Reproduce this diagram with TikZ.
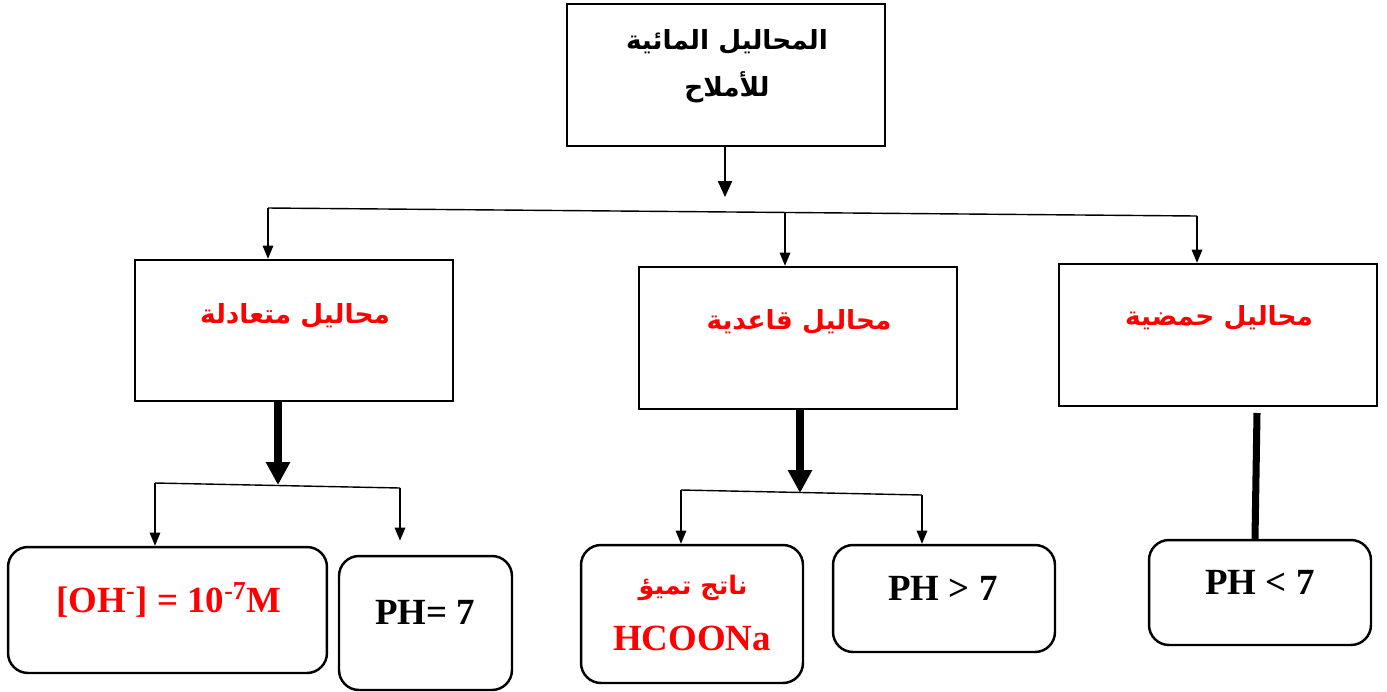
\documentclass[tikz,border=0pt]{standalone}
\usepackage{fontspec}
\setmainfont{Liberation Serif}
\newfontfamily\arabicfont[Script=Arabic]{DejaVu Sans}
\TeXXeTstate=1
\usetikzlibrary{arrows.meta}
\tikzset{
  box/.style={draw, line width=1.4pt, minimum width=6.36cm, minimum height=2.84cm, inner sep=0pt},
  rbox/.style={draw, line width=1.4pt, rounded corners=0.4cm, inner sep=0pt},
  artxt/.style={font=\arabicfont\bfseries\fontsize{15}{22}\selectfont, text=red, inner sep=0pt},
  lattxt/.style={font=\bfseries\fontsize{21}{25}\selectfont, inner sep=0pt},
  thinarr/.style={line width=0.8pt, -{Triangle[width=6pt,length=7.5pt]}},
  fatarr/.style={line width=4pt, -{Triangle[width=13pt,length=13pt]}},
}
\begin{document}
\begin{tikzpicture}[x=0.02cm, y=-0.02cm]
\useasboundingbox (0,0) rectangle (1387,691);

\node[box] (salts) at (726,75) {};
\node[font=\arabicfont\bfseries\fontsize{15}{27}\selectfont, align=center, inner sep=0pt] (saltstxt) at (727,66)
  {\beginR المحاليل المائية\endR\\\beginR للأملاح\endR};

\node[box, minimum height=2.82cm] (neutral) at (294,330.5) {};
\node[artxt] (neutraltxt) at (295,316) {\beginR محاليل متعادلة\endR};
\node[box] (basic) at (798,338) {};
\node[artxt] (basictxt) at (799,322) {\beginR محاليل قاعدية\endR};
\node[box] (acid) at (1218,335) {};
\node[artxt] (acidtxt) at (1219,318) {\beginR محاليل حمضية\endR};

\node[rbox, minimum width=6.38cm, minimum height=2.52cm] (ohbox) at (167.5,610) {};
\node[lattxt, text=red] (ohtxt) at (169,600) {[OH\textsuperscript{-}] = 10\textsuperscript{-7}M};
\node[rbox, minimum width=3.46cm, minimum height=2.68cm] (pheq) at (425.5,623) {};
\node[lattxt] (pheqtxt) at (425,612) {PH= 7};
\node[rbox, minimum width=4.44cm, minimum height=2.76cm] (hydro) at (692,614) {};
\node[artxt, font=\arabicfont\bfseries\fontsize{14.5}{18}\selectfont] (hydrotxt) at (693,588) {\beginR ناتج تميؤ\endR};
\node[lattxt, text=red] (hcoona) at (692,638) {HCOONa};
\node[rbox, minimum width=4.44cm, minimum height=2.14cm] (phgt) at (944,598.5) {};
\node[lattxt] (phgttxt) at (943,588) {PH > 7};
\node[rbox, minimum width=4.44cm, minimum height=2.10cm] (phlt) at (1260,592.5) {};
\node[lattxt] (phlttxt) at (1260,582) {PH < 7};

\coordinate (topend) at (725,197);
\coordinate (busL) at (268,208);
\coordinate (busM) at (785,212);
\coordinate (busR) at (1197,216);
\draw[line width=0.8pt, -{Triangle[width=8pt,length=9pt]}] (salts.south -| topend) -- (topend);
\draw[line width=0.8pt] (busL) -- (busR);
\draw[thinarr] (busL) -- (busL |- neutral.north);
\draw[thinarr] (busM) -- (busM |- basic.north);
\draw[thinarr] (busR) -- (busR |- acid.north);

\coordinate (nmid) at (278,485);
\coordinate (nbusL) at (155,483);
\coordinate (nbusR) at (400,488);
\draw[fatarr] (neutral.south -| nmid) -- (nmid);
\draw[line width=0.8pt] (nbusL) -- (nbusR);
\draw[thinarr] (nbusL) -- (nbusL |- ohbox.north);
\draw[thinarr, shorten >=8pt] (nbusR) -- (nbusR |- pheq.north);

\coordinate (bmid) at (800,493);
\coordinate (bbusL) at (681,490);
\coordinate (bbusR) at (922,495);
\draw[fatarr] (basic.south -| bmid) -- (bmid);
\draw[line width=0.8pt] (bbusL) -- (bbusR);
\draw[thinarr] (bbusL) -- (bbusL |- hydro.north);
\draw[thinarr] (bbusR) -- (bbusR |- phgt.north);

\coordinate (astart) at (1257,413);
\draw[line width=4pt] (astart) -- (phlt.north -| 1255,0);
\end{tikzpicture}
\end{document}
